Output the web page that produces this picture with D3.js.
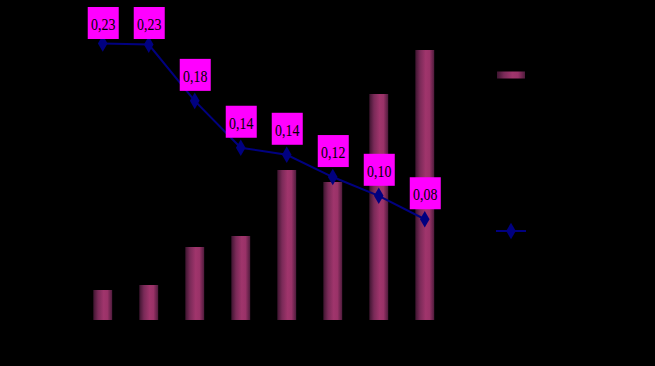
<!DOCTYPE html>
<html>
<head>
<meta charset="utf-8">
<script src="https://cdn.jsdelivr.net/npm/d3@7"></script>
<style>
  html, body { margin: 0; padding: 0; background: #000; }
  svg { display: block; }
</style>
</head>
<body>
<div id="chart"></div>
<script>
// categories (no visible axis labels in the picture)
const categories = ["1", "2", "3", "4", "5", "6", "7", "8"];
// bar series (arbitrary units)
const barValues = [30, 35, 73, 84, 150, 138, 226, 270];
// line series (ratio)
const lineValues = [0.230, 0.229, 0.181, 0.141, 0.135, 0.116, 0.100, 0.080];

const width = 655;
const height = 366;

const svg = d3.select("#chart").append("svg")
  .attr("width", width)
  .attr("height", height)
  .style("background", "#000");

const x = d3.scaleBand()
  .domain(categories)
  .range([79.5, 448])
  .paddingInner(0.59)
  .paddingOuter(0.3);

const y = d3.scaleLinear().domain([0, 300]).range([320, 20]);
const y2 = d3.scaleLinear().domain([0, 0.25]).range([313, 20]);

const defs = svg.append("defs");
const grad = defs.append("linearGradient")
  .attr("id", "barGrad")
  .attr("x1", "0%").attr("x2", "100%")
  .attr("y1", "0%").attr("y2", "0%");
grad.selectAll("stop")
  .data([
    {o: "0%", c: "#3e1530"},
    {o: "25%", c: "#7a2a58"},
    {o: "55%", c: "#a0356c"},
    {o: "75%", c: "#9a3268"},
    {o: "100%", c: "#4e1b3c"}
  ])
  .join("stop")
  .attr("offset", d => d.o)
  .attr("stop-color", d => d.c);

// bars
svg.append("g")
  .selectAll("rect")
  .data(barValues)
  .join("rect")
  .attr("x", (d, i) => x(categories[i]))
  .attr("y", d => y(d))
  .attr("width", x.bandwidth())
  .attr("height", d => y(0) - y(d))
  .attr("fill", "url(#barGrad)");

const cx = (d, i) => x(categories[i]) + x.bandwidth() / 2;

// line
const line = d3.line()
  .x(cx)
  .y(d => y2(d));

svg.append("path")
  .datum(lineValues)
  .attr("fill", "none")
  .attr("stroke", "#000080")
  .attr("stroke-width", 2)
  .attr("d", line);

const diamond = d3.symbol().type(d3.symbolDiamond).size(80);

svg.append("g")
  .selectAll("path")
  .data(lineValues)
  .join("path")
  .attr("transform", (d, i) => `translate(${cx(d, i)},${y2(d)})`)
  .attr("fill", "#000080")
  .attr("d", diamond);

// data labels, kept inside the plot top
const fmt = d => d3.format(".2f")(d).replace(".", ",");
const lab = svg.append("g")
  .selectAll("g")
  .data(lineValues)
  .join("g")
  .attr("transform", (d, i) => `translate(${cx(d, i)},${Math.max(7, y2(d) - 42)})`);

lab.append("rect")
  .attr("x", -15)
  .attr("y", 0)
  .attr("width", 31)
  .attr("height", 32)
  .attr("fill", "#ff00ff");

lab.append("text")
  .attr("transform", "translate(0.5,23) scale(0.82,1)")
  .attr("text-anchor", "middle")
  .attr("font-family", "'Liberation Serif', 'DejaVu Serif', serif")
  .attr("font-size", 17)
  .attr("fill", "#000")
  .text(fmt);

// legend
const legend = svg.append("g");
legend.append("rect")
  .attr("x", 497)
  .attr("y", 71.5)
  .attr("width", 28)
  .attr("height", 7)
  .attr("fill", "url(#barGrad)");

legend.append("line")
  .attr("x1", 496).attr("x2", 526)
  .attr("y1", 231).attr("y2", 231)
  .attr("stroke", "#000080")
  .attr("stroke-width", 2);

legend.append("path")
  .attr("transform", "translate(511,231)")
  .attr("fill", "#000080")
  .attr("d", diamond);
</script>
</body>
</html>
